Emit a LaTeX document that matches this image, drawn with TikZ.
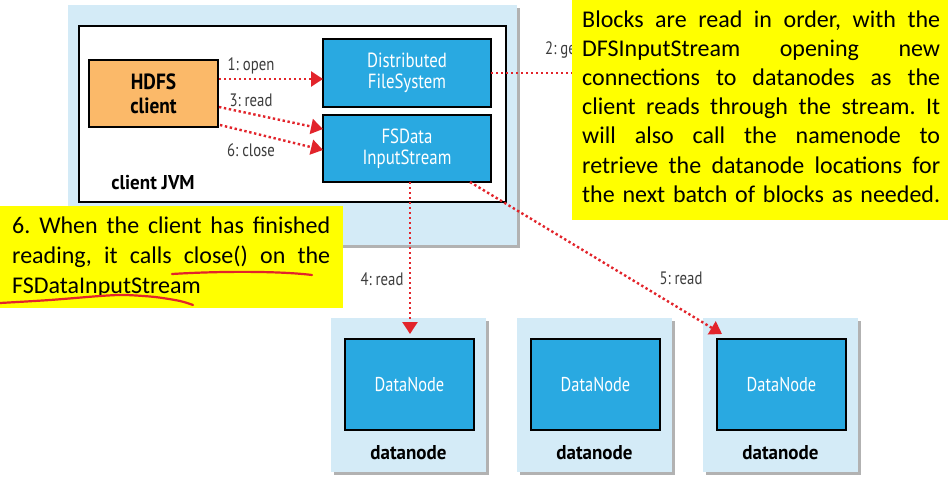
\documentclass[tikz,border=0pt]{standalone}
\usepackage{fontspec}
\setmainfont{Carlito}
\newfontfamily\dfont[FakeStretch=0.82]{PT Sans}
\newfontfamily\bfont[FakeStretch=0.95]{PT Sans Bold}
\newfontfamily\hfont[FakeStretch=0.88]{PT Sans Bold}
\usetikzlibrary{arrows.meta,shadows,calc}
\definecolor{lblue}{HTML}{D4EBF7}
\definecolor{dblue}{HTML}{29A9E1}
\definecolor{orng}{HTML}{FBB969}
\definecolor{arred}{HTML}{E2242B}
\definecolor{lbl}{HTML}{3C3C3C}
\definecolor{yel}{HTML}{FFFF00}
\frenchspacing
\tikzset{
  shell/.style={fill=lblue, inner sep=0pt, outer sep=0pt,
    drop shadow={shadow xshift=3pt, shadow yshift=-3pt, fill=black, opacity=0.3}},
  comp/.style={fill=dblue, draw=black, line width=1.5pt, inner sep=0pt, outer sep=0pt,
    text=white, align=center, font=\dfont\fontsize{20.5}{21}\selectfont},
  arr/.style={draw=arred, line width=2.4pt, dash pattern=on 2.4pt off 2.6pt,
    -{Triangle[length=12pt,width=15pt]}},
  plainline/.style={draw=arred, line width=2.4pt, dash pattern=on 2.4pt off 2.6pt},
  lab/.style={text=lbl, inner sep=0pt, font=\dfont\fontsize{18}{18}\selectfont},
  boldlab/.style={text=black, inner sep=0pt, font=\bfont\fontsize{20}{21}\selectfont},
  note/.style={fill=yel, inner sep=0pt, outer sep=0pt},
  noteline/.style={inner sep=0pt, anchor=base west, font=\fontsize{24}{29}\selectfont},
  ul/.style={draw=arred, line width=2.2pt, line cap=round}
}
\begin{document}
\begin{tikzpicture}[x=1pt,y=-1pt]
\useasboundingbox (0,0) rectangle (948,480);
% client JVM
\node[shell, minimum width=449pt, minimum height=240pt] (jvmout) at (292.5,125) {};
\node[fill=white, draw=black, line width=1.5pt, inner sep=0pt, minimum width=427pt, minimum height=176pt] (jvmin) at (292.5,114) {};
\node[comp, fill=orng, text=black, font=\hfont\fontsize{22}{24}\selectfont, minimum width=129pt, minimum height=67pt] (hdfs) at (153.5,93.5) {HDFS\\client};
\node[comp, minimum width=168pt, minimum height=68pt] (dfs) at (407,73) {Distributed\\FileSystem};
\node[comp, minimum width=168pt, minimum height=67pt] (fsd) at (407,148.5) {FSData\\InputStream};
\node[boldlab] (jvmlab) at (153,183) {client JVM};
% datanodes
\foreach \i/\cx in {1/408.5, 2/594.5, 3/780.5}{
  \node[shell, minimum width=155pt, minimum height=154pt] (dn\i) at (\cx,395) {};
  \node[comp, font=\dfont\fontsize{20}{22}\selectfont, minimum width=129pt, minimum height=91pt] (dn\i in) at (\cx+1,384.5) {DataNode};
  \node[boldlab] (dn\i lab) at (\cx,453) {datanode};
}
% arrows
\draw[arr] ($(hdfs.east)+(1,-14.5)$) -- ($(dfs.west)+(0,6)$);
\draw[arr] ($(hdfs.east)+(1,13.5)$) -- ($(fsd.west)+(0,-19.5)$);
\draw[arr] ($(hdfs.east)+(2,31.5)$) -- ($(fsd.west)+(0,1.5)$);
\draw[arr] ($(fsd.south)+(3,0)$) -- ($(dn1in.north)+(0.5,-5)$);
\draw[arr] ($(fsd.south)+(63,0)$) -- ($(dn3in.north west)+(5,-5)$);
\node[lab] (l1) at (251,66) {1: open};
\node[lab] (l3) at (251,100) {3: read};
\node[lab] (l6) at (251,150) {6: close};
\node[lab] (l4) at (382,279) {4: read};
\node[lab] (l5) at (681,278) {5: read};
\node[lab, anchor=west] (l2) at (545,50) {2: get};
% right note
\node[note, minimum width=376pt, minimum height=220pt] (noteR) at (760,110) {};
\draw[plainline] (dfs.east) -- (noteR.west |- dfs.east);
\foreach \t [count=\k] in {{Blocks are read in order, with the},{DFSInputStream opening new},{connections to datanodes as the},{client reads through the stream. It},{will also call the namenode to},{retrieve the datanode locations for},{the next batch of blocks as needed.}}{
  \node[noteline] (r\k) at (582,{27+29.2*(\k-1)}) {\makebox[358pt][s]{\t}};
}
% left note
\node[note, minimum width=343pt, minimum height=102pt] (noteL) at (171.5,257) {};
\node[noteline] (q1) at (12,233) {\makebox[318pt][s]{6. When the client has finished}};
\node[noteline] (q2) at (12,263) {\makebox[318pt][s]{reading, it calls close() on the}};
\node[noteline] (q3) at (12,293) {FSDataInputStream};
\draw[ul] (172,274) .. controls (220,271) and (280,271) .. (312,275);
\draw[ul] plot[smooth] coordinates {(0,303) (50,300) (100,296) (125,295) (155,297) (180,301) (193,305)};
\end{tikzpicture}
\end{document}
